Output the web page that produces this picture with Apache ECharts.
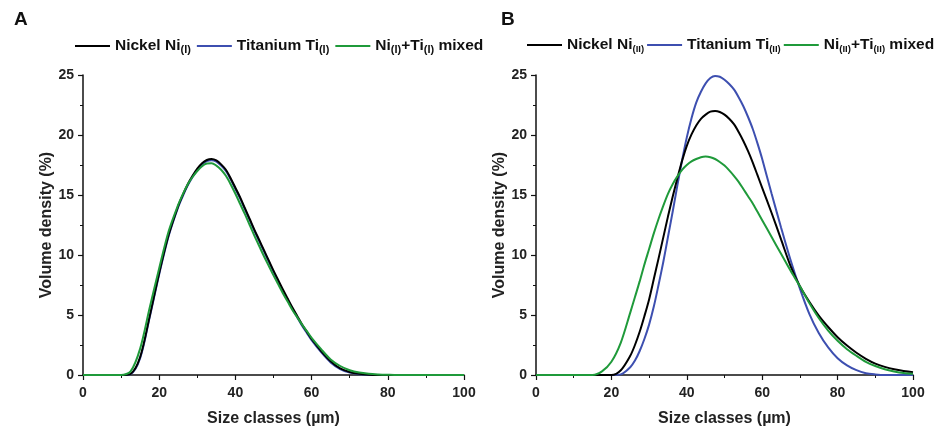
<!DOCTYPE html>
<html>
<head>
<meta charset="utf-8">
<script src="https://cdn.jsdelivr.net/npm/echarts@6/dist/echarts.min.js"></script>
<style>html,body{margin:0;padding:0;background:#fff;}#c{width:946px;height:432px;}</style>
</head>
<body>
<div id="c"></div>
<script>
// Size classes (µm) — sampling positions (finer around the peaks)
const sizes = [0,2.5,5,7.5,10,12.5,15,17.5,20,22.5,
  25,26.25,27.5,28.75,30,31.25,32.5,33.75,35,36.25,37.5,38.75,40,41.25,42.5,43.75,45,46.25,47.5,48.75,50,51.25,52.5,53.75,55,56.25,57.5,58.75,60,
  62.5,65,67.5,70,72.5,75,77.5,80,82.5,85,87.5,90,92.5,95,97.5,100];

// Panel A — volume density (%)
const nickelA = [0,0,0,0,0,0.1,1.5,4.9,8.5,11.7,
  14.1,15.05,15.9,16.6,17.2,17.65,17.92,18.0,17.88,17.55,17.1,16.4,15.6,14.8,13.9,13.0,12.1,11.25,10.4,9.55,8.7,7.9,7.1,6.35,5.6,4.9,4.2,3.6,3.0,
  2.0,1.15,0.55,0.25,0.1,0.03,0,0,0,0,0,0,0,0,0,0];
const titaniumA = [0,0,0,0,0,0.08,1.4,4.8,8.4,11.6,
  14.0,14.95,15.8,16.5,17.1,17.55,17.82,17.9,17.78,17.45,17.0,16.3,15.5,14.7,13.8,12.9,12.0,11.15,10.3,9.45,8.6,7.8,7.0,6.25,5.5,4.8,4.1,3.5,2.9,
  1.9,1.05,0.5,0.2,0.07,0.02,0,0,0,0,0,0,0,0,0,0];
const mixedA = [0,0,0,0,0,0.3,2.2,5.6,8.9,12.0,
  14.2,15.1,15.9,16.5,17.0,17.4,17.62,17.65,17.45,17.1,16.6,15.9,15.1,14.25,13.4,12.5,11.6,10.75,9.9,9.1,8.3,7.55,6.8,6.1,5.4,4.8,4.2,3.65,3.1,
  2.15,1.3,0.75,0.4,0.2,0.1,0.05,0.02,0,0,0,0,0,0,0,0];

// Panel B — volume density (%)
const nickelB = [0,0,0,0,0,0,0,0,0,0.4,
  1.6,2.5,3.6,4.9,6.3,8.0,9.7,11.45,13.2,14.85,16.4,17.85,19.1,20.05,20.8,21.35,21.7,21.95,22.0,21.92,21.7,21.35,20.9,20.25,19.5,18.65,17.7,16.65,15.6,
  13.5,11.3,9.1,7.4,6.1,4.95,4.0,3.15,2.45,1.85,1.35,0.95,0.68,0.48,0.34,0.24];
const titaniumB = [0,0,0,0,0,0,0,0,0,0.05,
  0.65,1.2,2.0,3.0,4.2,5.7,7.5,9.4,11.5,13.6,15.8,17.9,19.8,21.4,22.7,23.6,24.3,24.75,24.92,24.85,24.6,24.25,23.8,23.15,22.4,21.5,20.5,19.3,18.0,
  15.1,12.3,9.6,7.2,5.1,3.5,2.3,1.4,0.8,0.4,0.15,0.05,0,0,0,0];
const mixedB = [0,0,0,0,0,0,0,0.3,1.1,2.7,
  5.2,6.5,7.8,9.2,10.5,11.8,13.0,14.1,15.1,15.9,16.55,17.1,17.5,17.8,18.0,18.15,18.2,18.15,18.0,17.75,17.45,17.05,16.6,16.1,15.5,14.9,14.3,13.6,12.9,
  11.5,10.1,8.7,7.4,6.0,4.75,3.7,2.85,2.15,1.6,1.1,0.75,0.48,0.3,0.17,0.1];

// Tick labels
const xTicks = [0,20,40,60,80,100];
const yTicks = [0,5,10,15,20,25];

const FONT = 'Liberation Sans, Arial, sans-serif';
const BLACK = '#000000', BLUE = '#3d4fb0', GREEN = '#1f9a3a';

const pairs = ys => sizes.map((x,i)=>[x, ys[i]]);

const namesA = ['Nickel Ni(I)','Titanium Ti(I)','Ni(I)+Ti(I) mixed'];
const namesB = ['Nickel Ni(II)','Titanium Ti(II)','Ni(II)+Ti(II) mixed'];

const richLegend = {
  'Nickel Ni(I)': 'Nickel Ni{s|(I)}',
  'Titanium Ti(I)': 'Titanium Ti{s|(I)}',
  'Ni(I)+Ti(I) mixed': 'Ni{s|(I)}+Ti{s|(I)} mixed',
  'Nickel Ni(II)': 'Nickel Ni{s|(II)}',
  'Titanium Ti(II)': 'Titanium Ti{s|(II)}',
  'Ni(II)+Ti(II) mixed': 'Ni{s|(II)}+Ti{s|(II)} mixed'
};

function xAxis(idx){
  return {
    gridIndex: idx, type:'value', min:0, max:100, interval:20,
    name:'Size classes (µm)', nameLocation:'middle', nameGap:36,
    nameTextStyle:{fontFamily:FONT, fontWeight:'bold', fontSize:16, color:'#222'},
    axisLine:{show:true, onZero:false, lineStyle:{color:'#111', width:1.5}},
    axisTick:{show:true, inside:false, length:5, lineStyle:{color:'#111', width:1.2}},
    minorTick:{show:true, splitNumber:2, length:3, lineStyle:{color:'#111', width:1}},
    axisLabel:{fontFamily:FONT, fontWeight:'bold', fontSize:14, color:'#222', margin:11,
      formatter: v => xTicks.includes(v) ? String(v) : ''},
    splitLine:{show:false}
  };
}
function yAxis(idx){
  return {
    gridIndex: idx, type:'value', min:0, max:25, interval:5,
    name:'Volume density (%)', nameLocation:'middle', nameGap:28,
    nameTextStyle:{fontFamily:FONT, fontWeight:'bold', fontSize:16, color:'#222'},
    axisLine:{show:true, onZero:false, lineStyle:{color:'#111', width:1.5}},
    axisTick:{show:true, inside:false, length:5, lineStyle:{color:'#111', width:1.2}},
    minorTick:{show:true, splitNumber:2, length:3, lineStyle:{color:'#111', width:1}},
    axisLabel:{fontFamily:FONT, fontWeight:'bold', fontSize:14, color:'#222', margin:9,
      formatter: v => yTicks.includes(v) ? String(v) : ''},
    splitLine:{show:false}
  };
}
function line(name, data, color, idx){
  return {
    name, type:'line', xAxisIndex:idx, yAxisIndex:idx, data:pairs(data),
    smooth:0.3, showSymbol:false, symbol:'none',
    lineStyle:{color, width:2}, itemStyle:{color}
  };
}
function legend(names, left, gap, sub){
  return {
    data: names, left, top:31, width:460, orient:'horizontal',
    icon:'rect', itemWidth:35, itemHeight:2, itemGap:gap,
    formatter: n => richLegend[n],
    textStyle:{fontFamily:FONT, fontWeight:'bold', fontSize:15.5, color:'#111', lineHeight:18,
      rich:{ s:{fontFamily:FONT, fontWeight:'bold', fontSize:sub, color:'#111', verticalAlign:'bottom', lineHeight:18, padding:[8,0,0,0]} } }
  };
}

const chart = echarts.init(document.getElementById('c'), null, {renderer:'canvas'});
chart.setOption({
  animation:false,
  backgroundColor:'#fff',
  title:[
    {text:'A', left:9, top:5, textStyle:{fontFamily:FONT, fontWeight:'bold', fontSize:19, color:'#111'}},
    {text:'B', left:496, top:5, textStyle:{fontFamily:FONT, fontWeight:'bold', fontSize:19, color:'#111'}}
  ],
  legend:[ legend(namesA, 70, 6, 11), legend(namesB, 522, 3, 9.5) ],
  grid:[
    {left:83, top:75, width:381, height:306},
    {left:536, top:75, width:377, height:304}
  ],
  xAxis:[ xAxis(0), xAxis(1) ],
  yAxis:[ yAxis(0), yAxis(1) ],
  series:[
    line(namesA[1], titaniumA, BLUE, 0),
    line(namesA[0], nickelA, BLACK, 0),
    line(namesA[2], mixedA, GREEN, 0),
    line(namesB[1], titaniumB, BLUE, 1),
    line(namesB[0], nickelB, BLACK, 1),
    line(namesB[2], mixedB, GREEN, 1)
  ]
});
</script>
</body>
</html>
